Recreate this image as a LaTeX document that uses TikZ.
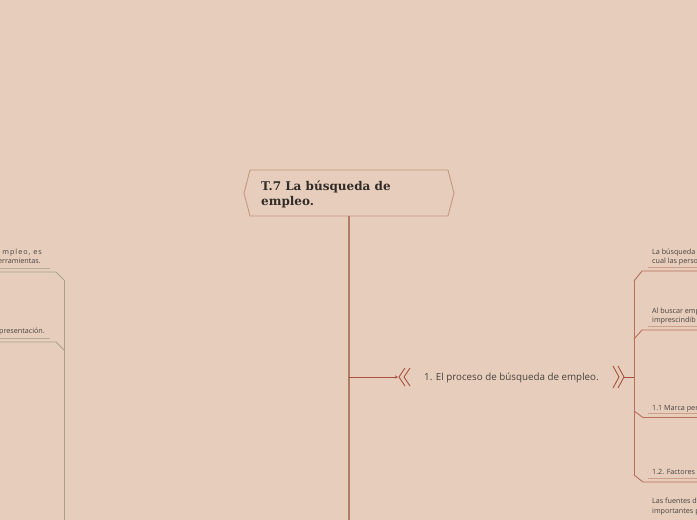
\documentclass[tikz,border=0pt]{standalone}
\usepackage{fontspec}
\setmainfont{Open Sans}
\newfontfamily\titlefont{DejaVu Serif}
\usetikzlibrary{arrows.meta}
\definecolor{bg}{RGB}{231,205,187}
\definecolor{trunkc}{RGB}{176,124,100}
\definecolor{hexline}{RGB}{196,152,128}
\definecolor{redc}{RGB}{166,82,62}
\definecolor{rline}{RGB}{184,112,92}
\definecolor{uline}{RGB}{205,158,138}
\definecolor{lline}{RGB}{166,162,138}
\definecolor{txt}{RGB}{72,66,62}
\definecolor{titlec}{RGB}{50,44,40}
\tikzset{
  titlestyle/.style={anchor=base west, inner sep=0pt, text=titlec, font=\titlefont\bfseries\fontsize{12}{14}\selectfont},
  smalltxt/.style={anchor=base west, inner sep=0pt, text=txt, font=\fontsize{7.2}{8.5}\selectfont},
  lefttxt/.style={anchor=base east, inner sep=0pt, text=txt, font=\fontsize{7.2}{8.5}\selectfont},
  maintxt/.style={anchor=base west, inner sep=0pt, text=txt, font=\fontsize{9.8}{11.5}\selectfont},
  rconn/.style={draw=rline, line width=0.9pt},
  runder/.style={draw=uline, line width=0.8pt},
  lconn/.style={draw=lline, line width=0.9pt},
  lunder/.style={draw=lline!80!bg, line width=0.8pt},
  chev/.style={draw=redc, line width=0.9pt},
}
\begin{document}
\begin{tikzpicture}[x=1pt,y=-1pt]
\useasboundingbox (0,0) rectangle (697,520);
\fill[bg] (0,0) rectangle (697,520);
\clip (0,0) rectangle (697,520);

% central topic
\coordinate (h1) at (250,170);
\coordinate (h2) at (448,170);
\coordinate (h3) at (454,193);
\coordinate (h4) at (448,216);
\coordinate (h5) at (250,216);
\coordinate (h6) at (244,193);
\draw[hexline, line width=0.9pt] (h1) -- (h2) -- (h3) -- (h4) -- (h5) -- (h6) -- cycle;
\node[titlestyle] (title) at (261,190.5) {T.7 La búsqueda de};
\node[titlestyle] (title2) at (261,205.5) {empleo.};

% trunk
\coordinate (tTop) at (349,216);
\coordinate (tBot) at (349,522);
\coordinate (tJ) at (349,377);
\draw[trunkc, line width=1.6pt] (tTop) -- (tBot);

% branch 1
\coordinate (cL) at (398,377);
\draw[redc, line width=0.9pt, -{Stealth[length=3pt,width=3pt]}] (tJ) -- (cL);
\draw[chev] (405,368) -- (399,377) -- (405,386);
\draw[chev] (410,368) -- (404,377) -- (410,386);
\node[maintxt] (proc) at (424,380.5) {1. El proceso de búsqueda de empleo.};
\draw[chev] (613,366) -- (619,377) -- (613,388);
\draw[chev] (618,366) -- (624,377) -- (618,388);
\coordinate (cR) at (624,377);
\coordinate (bJ) at (634,377);
\draw[chev] (cR) -- (bJ);

% right bracket
\coordinate (rTop) at (634,281);
\coordinate (rBot) at (634,475);
\draw[rconn] (rTop) -- (rBot);
\draw[rconn] (rTop) -- (642,271) -- (699,271);
\draw[rconn] (634,339) -- (642,330) -- (699,330);
\draw[rconn] (634,411) -- (643,417.5) -- (699,417.5);
\draw[rconn] (rBot) -- (643,482) -- (699,482);
\draw[runder] (648,267) -- (699,267);
\draw[runder] (648,326) -- (699,326);
\draw[runder] (648,413.5) -- (699,413.5);
\draw[runder] (648,478.3) -- (699,478.3);

\node[smalltxt] (r1a) at (652,254) {La búsqueda};
\node[smalltxt] (r1b) at (652,263) {cual las perso};
\node[smalltxt] (r2a) at (652,313) {Al buscar emp};
\node[smalltxt] (r2b) at (652,322) {imprescindib};
\node[smalltxt] (r3) at (652,410) {1.1 Marca per};
\node[smalltxt] (r4) at (652,474.5) {1.2. Factores};
\node[smalltxt] (r5a) at (652,503.5) {Las fuentes d};
\node[smalltxt] (r5b) at (652,513) {importantes p};

% left bracket
\coordinate (lTop) at (64,280);
\coordinate (lBot) at (64,522);
\draw[lconn] (lTop) -- (lBot);
\draw[lconn] (-2,272) -- (56,272) -- (lTop);
\draw[lconn] (-2,342) -- (56,342) -- (64,350);
\draw[lunder] (-2,268) -- (50,268);
\draw[lunder] (-2,338) -- (50,338);
\node[lefttxt, font=\fontsize{7.2}{8.5}\selectfont\addfontfeature{LetterSpace=14}] (l1a) at (42,254) {mpleo, es};
\node[lefttxt] (l1b) at (41,263) {erramientas.};
\node[lefttxt] (l2) at (45,333) {presentación.};
\end{tikzpicture}
\end{document}
